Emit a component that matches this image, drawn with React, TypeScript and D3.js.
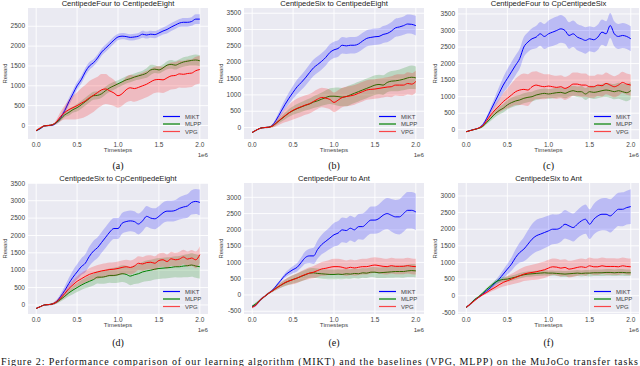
import React from "react"
import * as d3 from "d3"

// timesteps in millions (axis shows "1e6")
const timesteps = [
  0, 0.05, 0.1, 0.15, 0.2, 0.25, 0.3, 0.35, 0.4, 0.45, 0.5, 0.55, 0.6, 0.65, 0.7, 0.75, 0.8, 0.85, 0.9, 0.95, 1.0,
  1.05, 1.1, 1.15, 1.2, 1.25, 1.3, 1.35, 1.4, 1.45, 1.5, 1.55, 1.6, 1.65, 1.7, 1.75, 1.8, 1.85, 1.9, 1.95, 2.0,
]

const methods = ["MIKT", "MLPP", "VPG"]
const methodColors = ["#0000ff", "#008000", "#ff0000"]

const panelTitles = [
  "CentipedeFour to CentipedeEight",
  "CentipedeSix to CentipedeEight",
  "CentipedeFour to CpCentipedeSix",
  "CentipedeSix to CpCentipedeEight",
  "CentipedeFour to Ant",
  "CentipedeSix to Ant",
]
const panelLabels = ["(a)", "(b)", "(c)", "(d)", "(e)", "(f)"]
const yDomains = [
  [-340, 2960],
  [-350, 3660],
  [-280, 3680],
  [-260, 3510],
  [-585, 3440],
  [-550, 3390],
]

// mean reward per method, one row per panel
const miktMean = [
  [-130, -80, -10, 0, 10, 80, 200, 380, 600, 800, 1000, 1150, 1350, 1500, 1580, 1700, 1850, 1950, 2050, 2150, 2230, 2250, 2240, 2220, 2230, 2250, 2300, 2280, 2300, 2290, 2330, 2380, 2420, 2480, 2530, 2580, 2600, 2600, 2620, 2680, 2680],
  [-150, -80, -20, 0, 10, 80, 260, 480, 700, 900, 1080, 1250, 1380, 1520, 1680, 1830, 1930, 2030, 2150, 2300, 2380, 2420, 2520, 2500, 2520, 2520, 2560, 2650, 2730, 2760, 2780, 2790, 2850, 2880, 2950, 3050, 3080, 3120, 3170, 3160, 3120],
  [-60, -20, 10, 50, 150, 350, 600, 850, 1100, 1350, 1550, 1750, 1950, 2150, 2500, 2650, 2750, 2800, 2900, 2820, 2900, 2950, 3000, 3050, 3000, 2850, 2900, 2800, 2750, 2700, 2750, 2720, 2800, 2950, 2900, 3150, 2900, 2820, 2850, 2820, 2750],
  [-100, -50, 0, 10, 30, 100, 250, 420, 620, 800, 950, 1100, 1200, 1400, 1550, 1650, 1800, 1950, 2100, 2200, 2200, 2350, 2400, 2420, 2400, 2330, 2420, 2550, 2500, 2480, 2550, 2650, 2700, 2700, 2720, 2780, 2820, 2850, 2950, 2980, 2950],
  [-350, -300, -150, -50, 50, 150, 300, 450, 600, 700, 780, 850, 1000, 1150, 1200, 1200, 1400, 1550, 1650, 1750, 1850, 1900, 2000, 1980, 2050, 2000, 2100, 2100, 2200, 2300, 2300, 2350, 2450, 2500, 2450, 2400, 2400, 2500, 2600, 2600, 2550],
  [-350, -250, -130, -50, 50, 150, 250, 380, 500, 650, 800, 950, 1150, 1300, 1400, 1550, 1700, 1800, 1850, 1900, 1950, 2000, 2000, 2050, 2150, 2100, 2050, 2150, 2250, 2300, 2150, 2300, 2400, 2450, 2450, 2400, 2500, 2600, 2600, 2650, 2680],
]
const miktSpread = [
  [20, 20, 20, 20, 20, 40, 60, 80, 90, 100, 100, 100, 100, 100, 90, 90, 90, 90, 90, 90, 80, 80, 80, 80, 80, 80, 90, 90, 90, 90, 90, 90, 100, 100, 100, 100, 110, 110, 110, 120, 120],
  [20, 20, 20, 20, 20, 40, 80, 120, 150, 180, 200, 220, 230, 240, 250, 250, 250, 250, 250, 250, 250, 250, 250, 250, 250, 250, 250, 250, 250, 250, 250, 250, 260, 270, 270, 280, 280, 280, 290, 290, 300],
  [10, 10, 10, 20, 30, 60, 100, 150, 200, 240, 280, 300, 300, 300, 300, 300, 320, 340, 360, 380, 400, 420, 420, 420, 400, 400, 400, 400, 400, 400, 380, 380, 380, 380, 380, 380, 380, 380, 380, 380, 380],
  [10, 10, 10, 20, 30, 50, 80, 120, 160, 200, 220, 240, 260, 280, 300, 300, 300, 300, 300, 300, 300, 300, 300, 300, 300, 300, 300, 300, 300, 300, 300, 300, 300, 300, 300, 320, 330, 340, 350, 360, 370],
  [40, 40, 40, 30, 30, 30, 40, 50, 70, 90, 110, 130, 160, 190, 220, 250, 280, 300, 320, 340, 360, 370, 380, 380, 380, 380, 390, 400, 400, 420, 420, 440, 460, 480, 500, 520, 540, 560, 560, 560, 560],
  [30, 30, 30, 30, 30, 40, 60, 80, 100, 130, 160, 200, 250, 300, 360, 420, 460, 480, 480, 470, 460, 450, 440, 430, 430, 420, 420, 420, 430, 440, 450, 460, 470, 480, 490, 500, 500, 500, 510, 510, 520],
]

const mlppMean = [
  [-130, -70, -10, 0, 20, 80, 170, 270, 330, 400, 450, 520, 600, 680, 750, 760, 800, 880, 950, 1000, 1050, 1100, 1150, 1180, 1220, 1250, 1280, 1320, 1400, 1420, 1400, 1450, 1520, 1540, 1520, 1560, 1600, 1620, 1640, 1650, 1630],
  [-150, -80, -20, 0, 10, 50, 150, 250, 350, 450, 520, 580, 630, 680, 720, 780, 820, 870, 920, 960, 960, 950, 930, 950, 1000, 1050, 1100, 1150, 1200, 1250, 1300, 1320, 1300, 1380, 1420, 1430, 1450, 1480, 1520, 1540, 1520],
  [-60, -25, 10, 40, 100, 220, 350, 480, 580, 650, 750, 820, 870, 900, 950, 980, 1000, 1050, 1080, 1100, 1080, 1100, 1120, 1130, 1100, 1150, 1180, 1150, 1150, 1080, 1150, 1130, 1150, 1180, 1200, 1180, 1150, 1180, 1150, 1120, 1180],
  [-100, -50, 0, 10, 30, 80, 160, 250, 350, 430, 500, 570, 630, 680, 730, 800, 800, 820, 850, 850, 870, 900, 880, 830, 870, 900, 950, 980, 1000, 1030, 1050, 1060, 1070, 1080, 1100, 1100, 1120, 1130, 1150, 1120, 1100],
  [-350, -260, -150, -50, 50, 130, 220, 300, 370, 430, 480, 520, 570, 620, 670, 680, 660, 650, 640, 630, 630, 640, 630, 650, 640, 660, 650, 680, 670, 700, 700, 680, 690, 700, 710, 720, 720, 720, 740, 750, 740],
  [-350, -250, -120, -30, 80, 200, 300, 400, 460, 490, 500, 530, 560, 600, 630, 650, 660, 670, 680, 690, 680, 680, 670, 660, 650, 660, 670, 680, 670, 680, 680, 690, 690, 690, 700, 700, 690, 700, 700, 690, 690],
]
const mlppSpread = [
  [20, 20, 20, 20, 20, 30, 50, 60, 80, 80, 100, 100, 100, 100, 100, 100, 100, 100, 100, 100, 90, 90, 90, 90, 90, 100, 100, 120, 130, 100, 90, 90, 100, 110, 110, 110, 120, 120, 130, 140, 140],
  [20, 20, 20, 20, 20, 40, 60, 80, 100, 120, 130, 140, 150, 160, 170, 180, 190, 200, 220, 240, 260, 280, 280, 300, 300, 300, 300, 300, 300, 300, 300, 300, 300, 300, 310, 320, 330, 340, 350, 360, 350],
  [10, 10, 10, 20, 30, 50, 80, 100, 120, 130, 140, 150, 150, 150, 150, 150, 150, 150, 150, 150, 150, 150, 150, 150, 150, 150, 150, 160, 170, 180, 190, 200, 200, 200, 210, 220, 230, 240, 250, 260, 260],
  [10, 10, 10, 20, 30, 40, 60, 80, 100, 120, 130, 140, 150, 160, 170, 180, 190, 200, 210, 220, 230, 240, 250, 260, 270, 280, 290, 300, 300, 300, 300, 300, 300, 300, 300, 310, 320, 330, 340, 340, 340],
  [40, 40, 30, 30, 30, 40, 60, 80, 100, 120, 130, 140, 150, 150, 150, 150, 150, 150, 150, 150, 150, 150, 150, 150, 150, 150, 150, 150, 150, 150, 160, 160, 170, 170, 180, 180, 180, 190, 190, 200, 200],
  [30, 30, 30, 30, 30, 40, 50, 60, 70, 80, 80, 80, 80, 80, 80, 80, 80, 80, 80, 80, 80, 80, 80, 90, 90, 90, 90, 90, 90, 90, 100, 100, 100, 100, 100, 100, 100, 100, 100, 100, 100],
]

const vpgMean = [
  [-130, -60, -10, 0, 20, 100, 230, 330, 400, 450, 500, 560, 620, 700, 760, 830, 900, 920, 870, 820, 750, 800, 900, 950, 930, 960, 1000, 1040, 1100, 1150, 1160, 1150, 1200, 1250, 1260, 1300, 1290, 1310, 1320, 1380, 1410],
  [-150, -80, -20, 0, 10, 50, 150, 260, 360, 450, 530, 590, 640, 690, 730, 800, 870, 920, 900, 860, 770, 840, 920, 950, 970, 1000, 1050, 1100, 1150, 1170, 1180, 1200, 1220, 1240, 1250, 1300, 1300, 1300, 1350, 1330, 1410],
  [-60, -25, 10, 50, 120, 280, 450, 600, 720, 850, 950, 1050, 1150, 1200, 1220, 1200, 1300, 1350, 1320, 1300, 1320, 1300, 1280, 1300, 1250, 1300, 1380, 1380, 1350, 1350, 1300, 1300, 1350, 1330, 1400, 1350, 1300, 1350, 1430, 1380, 1350],
  [-100, -50, 0, 10, 30, 90, 200, 330, 470, 580, 680, 750, 820, 880, 920, 950, 980, 1000, 1020, 1030, 1050, 1080, 1100, 1080, 1120, 1200, 1180, 1220, 1230, 1200, 1280, 1300, 1250, 1330, 1300, 1320, 1380, 1320, 1350, 1300, 1450],
  [-380, -300, -150, -50, 50, 130, 220, 300, 380, 430, 470, 520, 580, 630, 670, 700, 750, 800, 820, 850, 870, 870, 850, 820, 850, 830, 850, 870, 870, 900, 920, 900, 880, 870, 900, 880, 880, 880, 900, 880, 870],
  [-350, -250, -150, -50, 30, 100, 180, 250, 330, 400, 450, 500, 550, 600, 650, 680, 700, 720, 750, 780, 830, 870, 860, 830, 850, 800, 820, 850, 870, 850, 900, 870, 870, 900, 880, 880, 880, 870, 900, 880, 870],
]
const vpgSpread = [
  [20, 20, 20, 20, 20, 60, 120, 180, 250, 300, 340, 380, 400, 420, 420, 400, 400, 380, 350, 330, 300, 300, 320, 330, 330, 330, 330, 330, 330, 330, 330, 330, 340, 340, 340, 340, 340, 350, 350, 350, 350],
  [20, 20, 20, 20, 20, 50, 100, 150, 200, 250, 280, 300, 300, 300, 300, 300, 300, 300, 300, 300, 300, 300, 300, 300, 300, 300, 300, 300, 300, 300, 300, 300, 300, 300, 320, 320, 330, 330, 340, 340, 340],
  [10, 10, 10, 20, 30, 60, 100, 150, 200, 250, 300, 350, 400, 450, 480, 480, 450, 420, 400, 380, 360, 350, 350, 350, 350, 350, 350, 350, 350, 350, 330, 330, 330, 330, 330, 320, 320, 320, 320, 320, 320],
  [10, 10, 10, 20, 30, 50, 70, 90, 110, 130, 150, 160, 170, 180, 190, 200, 200, 200, 200, 200, 200, 200, 200, 200, 200, 200, 200, 200, 200, 200, 200, 200, 200, 200, 200, 210, 210, 220, 230, 240, 240],
  [40, 40, 30, 30, 30, 40, 60, 80, 100, 120, 140, 150, 160, 170, 180, 190, 200, 210, 220, 230, 240, 240, 240, 240, 240, 240, 240, 240, 240, 240, 240, 240, 240, 240, 240, 240, 240, 240, 240, 240, 240],
  [30, 30, 30, 30, 30, 40, 60, 80, 100, 120, 140, 160, 180, 200, 210, 220, 230, 240, 250, 250, 250, 250, 250, 250, 250, 250, 250, 250, 250, 250, 250, 250, 250, 250, 250, 250, 250, 250, 250, 250, 250],
]

const xTicks = [0, 0.5, 1.0, 1.5, 2.0]

// axes boxes
const colX = [
  [28, 208],
  [244, 424],
  [458, 639],
]
const rowY = [
  [8, 139],
  [183, 314],
]

const tickFont = "'Liberation Sans', Arial, sans-serif"
const serifFont = "'Liberation Serif', 'Times New Roman', serif"

function Panel({ idx }: { idx: number }) {
  const [x0, x1] = colX[idx % 3]
  const [y0, y1] = rowY[Math.floor(idx / 3)]

  const x = d3.scaleLinear().domain([-0.1, 2.1]).range([x0, x1])
  const y = d3.scaleLinear().domain(yDomains[idx]).range([y1, y0])
  const yTicks = d3.range(-500, 4000, 500).filter((v) => v >= yDomains[idx][0] && v <= yDomains[idx][1])

  const series = [
    { mean: miktMean[idx], spread: miktSpread[idx] },
    { mean: mlppMean[idx], spread: mlppSpread[idx] },
    { mean: vpgMean[idx], spread: vpgSpread[idx] },
  ]

  const line = d3
    .line<number>()
    .x((_, i) => x(timesteps[i]))
    .y((d) => y(d))
    .curve(d3.curveMonotoneX)

  const band = (s: { mean: number[]; spread: number[] }) =>
    d3
      .area<number>()
      .x((_, i) => x(timesteps[i]))
      .y0((d, i) => y(d - s.spread[i]))
      .y1((d, i) => y(d + s.spread[i]))
      .curve(d3.curveMonotoneX)(s.mean)

  const cx = (x0 + x1) / 2
  const cy = (y0 + y1) / 2

  return (
    <g>
      <rect x={x0} y={y0} width={x1 - x0} height={y1 - y0} fill="#eaeaf2" />
      {xTicks.map((t) => (
        <line key={"gx" + t} x1={x(t)} x2={x(t)} y1={y0} y2={y1} stroke="#fff" strokeWidth={0.9} />
      ))}
      {yTicks.map((t) => (
        <line key={"gy" + t} x1={x0} x2={x1} y1={y(t)} y2={y(t)} stroke="#fff" strokeWidth={0.9} />
      ))}
      <clipPath id={"clip" + idx}>
        <rect x={x0} y={y0} width={x1 - x0} height={y1 - y0} />
      </clipPath>
      <g clipPath={`url(#clip${idx})`}>
        {series.map((s, k) => (
          <g key={k}>
            <path d={band(s) || ""} fill={methodColors[k]} fillOpacity={0.2} stroke="none" />
            <path d={line(s.mean) || ""} fill="none" stroke={methodColors[k]} strokeWidth={1} />
          </g>
        ))}
      </g>
      {/* tick labels */}
      {xTicks.map((t) => (
        <text key={"tx" + t} x={x(t)} y={y1 + 7.5} fontSize={6.5} fill="#444" textAnchor="middle" fontFamily={tickFont}>
          {t.toFixed(1)}
        </text>
      ))}
      {yTicks.map((t) => (
        <text key={"ty" + t} x={x0 - 3} y={y(t) + 2.2} fontSize={6.5} fill="#444" textAnchor="end" fontFamily={tickFont}>
          {t}
        </text>
      ))}
      <text x={x1} y={y1 + 17.5} fontSize={6.2} fill="#444" textAnchor="end" fontFamily={tickFont}>
        1e6
      </text>
      <text x={cx} y={y1 + 13} fontSize={6.2} fill="#444" textAnchor="middle" fontFamily={tickFont}>
        Timesteps
      </text>
      <text
        transform={`translate(${x0 - 21},${cy}) rotate(-90)`}
        fontSize={5.8}
        fill="#444"
        textAnchor="middle"
        fontFamily={tickFont}
      >
        Reward
      </text>
      <text x={cx} y={y0 - 1.8} fontSize={7.6} fill="#222" textAnchor="middle" fontFamily={tickFont}>
        {panelTitles[idx]}
      </text>
      {/* legend */}
      {methods.map((m, k) => {
        const ly = y1 - 22.5 + k * 7.5
        return (
          <g key={m}>
            <line x1={x1 - 45} x2={x1 - 28} y1={ly} y2={ly} stroke={methodColors[k]} strokeWidth={1.2} strokeOpacity={k === 2 ? 0.7 : 1} />
            <text x={x1 - 23} y={ly + 2.1} fontSize={6} fill="#444" fontFamily={tickFont}>
              {m}
            </text>
          </g>
        )
      })}
      <text x={cx} y={y1 + (idx < 3 ? 29.5 : 32)} fontSize={10} fill="#111" textAnchor="middle" fontFamily={serifFont}>
        {panelLabels[idx]}
      </text>
    </g>
  )
}

export default function App() {
  return (
    <svg
      width={640}
      height={366}
      style={{ position: "absolute", left: 0, top: 0, display: "block", background: "#fff" }}
    >
      {panelTitles.map((_, i) => (
        <Panel key={i} idx={i} />
      ))}
      <text x={1} y={364.5} fontSize={10} fill="#111" fontFamily={serifFont} textLength={637} lengthAdjust="spacing">
        Figure 2: Performance comparison of our learning algorithm (MIKT) and the baselines (VPG, MLPP) on the MuJoCo transfer tasks
      </text>
    </svg>
  )
}
